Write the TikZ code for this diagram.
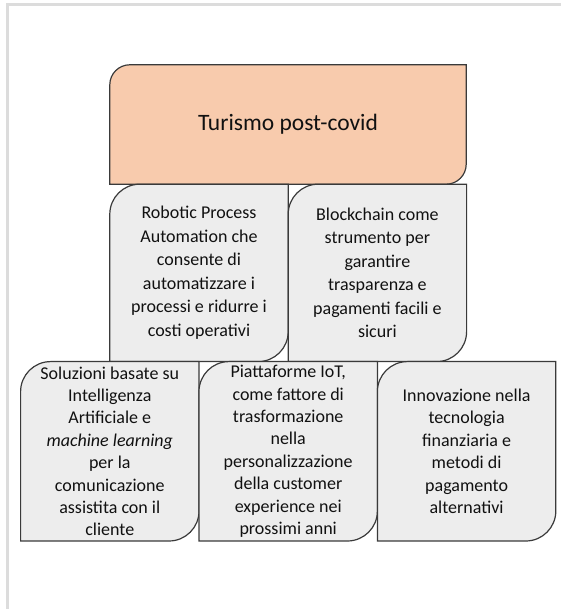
\documentclass[tikz,border=0pt]{standalone}
\usepackage{fontspec}
\setmainfont{Carlito}
\usetikzlibrary{positioning, backgrounds}

\definecolor{peach}{HTML}{F8CBAD}
\definecolor{boxgray}{HTML}{EDEDED}
\definecolor{edgegray}{HTML}{3A3A3A}
\definecolor{framegray}{HTML}{DCDCDC}
\definecolor{txt}{HTML}{111111}

% outline with round top-left and bottom-right corners, behind the node text
\newcommand{\cornerframe}[3]{%
  \begin{scope}[on background layer]
    \draw[edge, fill=#3] (#1.south west) -- ([yshift=-#2]#1.north west)
      arc[start angle=180, end angle=90, radius=#2] -- (#1.north east)
      -- ([yshift=#2]#1.south east)
      arc[start angle=0, end angle=-90, radius=#2] -- cycle;
  \end{scope}}

\begin{document}
\begin{tikzpicture}[
    x=1pt, y=1pt,
    edge/.style={draw=edgegray, line width=1.2pt},
    frame/.style={draw=framegray, line width=3pt},
    head/.style={rectangle, minimum width=356pt, minimum height=119pt, inner sep=0pt, font=\fontsize{23.5}{27}\selectfont, text=txt},
    sq/.style={rectangle, minimum width=178pt, minimum height=177pt, inner sep=0pt, align=center, font=\fontsize{18}{23.5}\selectfont, text=txt},
    sqlow/.style={sq, minimum height=179pt, font=\fontsize{18}{22.4}\selectfont},
]
\useasboundingbox (0,0) rectangle (561,609);

% ========== PAGE FRAME ==========
\draw[frame] (7,0) -- (7,604) -- (561,604);

% ========== TITLE ==========
\node[head] (top) at (288,484.5) {Turismo post-covid};

% ========== SECOND ROW ==========
\node[sq, anchor=north west] (rpa) at (top.south west) {Robotic Process\\Automation che\\consente di\\automatizzare i\\processi e ridurre i\\costi operativi};
\node[sq, right=0pt of rpa] (chain) {Blockchain come\\strumento per\\garantire\\trasparenza e\\pagamenti facili e\\sicuri};

% ========== THIRD ROW ==========
\node[sqlow, anchor=north] (iot) at (rpa.south east) {Piattaforme IoT,\\come fattore di\\trasformazione\\nella\\personalizzazione\\della customer\\experience nei\\prossimi anni};
\node[sqlow, left=0pt of iot] (ai) {Soluzioni basate su\\Intelligenza\\Artificiale e\\\textit{machine learning}\\per la\\comunicazione\\assistita con il\\cliente};
\node[sqlow, right=0pt of iot] (fin) {Innovazione nella\\tecnologia\\finanziaria e\\metodi di\\pagamento\\alternativi};

% ========== OUTLINES ==========
\cornerframe{top}{20pt}{peach}
\cornerframe{rpa}{30pt}{boxgray}
\cornerframe{chain}{30pt}{boxgray}
\cornerframe{ai}{30pt}{boxgray}
\cornerframe{iot}{30pt}{boxgray}
\cornerframe{fin}{30pt}{boxgray}

\end{tikzpicture}
\end{document}
